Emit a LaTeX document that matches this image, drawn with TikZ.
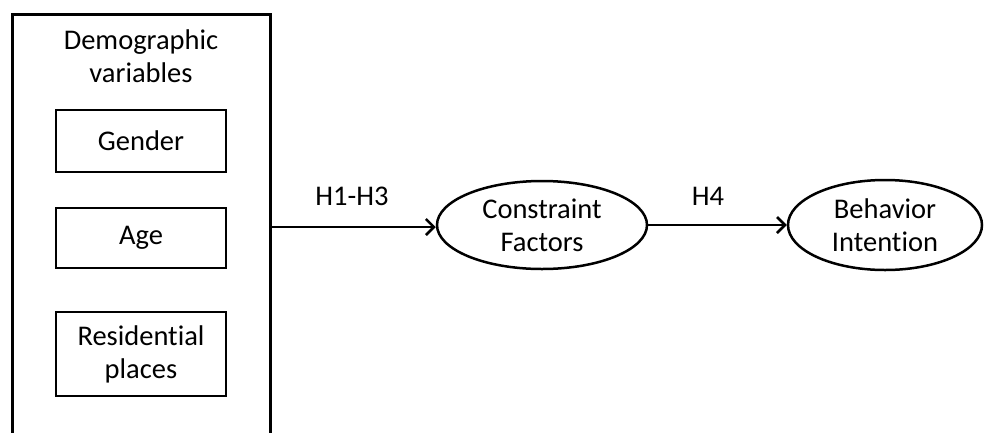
\documentclass[tikz,border=0pt]{standalone}
\usepackage{fontspec}
\setmainfont{Carlito}[Ligatures={NoCommon}]
\usetikzlibrary{arrows.meta,shapes.geometric}
\begin{document}
\begin{tikzpicture}[x=1pt,y=-1pt,
  txt/.style={font=\fontsize{28.5}{33}\selectfont, align=center, inner sep=0pt},
  box/.style={draw, line width=2.5pt, minimum width=170pt, inner sep=0pt, txt},
  oval/.style={draw, ellipse, line width=2.5pt, inner sep=0pt, txt},
  arr/.style={line width=2.5pt, -{Straight Barb[length=8pt,width=16pt,line width=2.5pt]}}]
\clip (0,0) rectangle (984,432);
\fill[white] (0,0) rectangle (984,432);
\node[draw, line width=3pt, minimum width=258pt, minimum height=426pt, inner sep=0pt] (demo) at (141,227) {};
\node[txt] (title) at (141,56) {Demographic\\variables};
\node[box, minimum height=62pt] (gender) at (141,141) {Gender};
\node[box, minimum height=60pt] (age) at (141,238) {Age};
\node[box, minimum height=84pt] (res) at (141,354) {Residential\\places};
\node[oval, minimum width=210pt, minimum height=88pt] (cf) at (542,225) {Constraint\\Factors};
\node[oval, minimum width=194pt, minimum height=90pt] (bi) at (885,225) {Behavior\\Intention};
\draw[arr] (demo.east) -- (cf.west |- demo.east);
\draw[arr] (cf.east) -- (bi.west);
\node[txt] (h13) at (352,196) {H1-H3};
\node[txt] (h4) at (708,196) {H4};
\end{tikzpicture}
\end{document}
